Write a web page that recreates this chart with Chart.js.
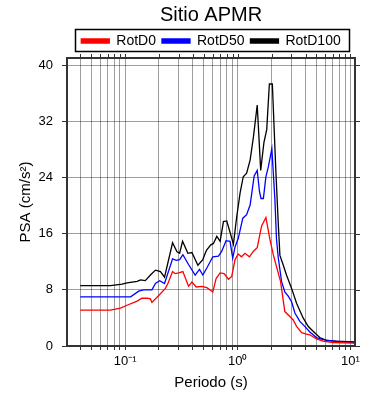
<!DOCTYPE html>
<html><head><meta charset="utf-8">
<script src="https://cdn.jsdelivr.net/npm/chart.js@4/dist/chart.umd.min.js"></script>
<style>html,body{margin:0;padding:0;background:#fff}</style>
</head><body>
<canvas id="c" width="390" height="400"></canvas>
<script>
const chartTitle = 'Sitio APMR';
const xAxisTitle = 'Periodo (s)';
const yAxisTitle = 'PSA (cm/s²)';
const seriesNames = ['RotD0', 'RotD50', 'RotD100'];
const seriesColors = ['#ff0000', '#0000ff', '#000000'];

const periodsD0 = [0.04,0.0742,0.0909,0.104,0.128,0.141,0.157,0.168,0.173,0.199,0.228,0.240,0.264,0.279,0.299,0.326,0.366,0.392,0.428,0.480,0.532,0.601,0.643,0.698,0.757,0.827,0.885,0.947,1.01,1.08,1.16,1.27,1.38,1.49,1.63,1.78,1.93,2.07,2.21,2.40,2.62,2.90,3.11,3.33,3.69,4.08,4.37,5.00,5.73,7.02,11];
const psaD0 = [5.1,5.1,5.4,5.8,6.4,6.8,6.8,6.7,6.2,7.2,8.2,8.9,10.6,10.3,10.4,10.6,8.5,9.1,8.4,8.5,8.3,7.7,9.6,10.4,10.3,9.5,9.9,12.3,13.1,12.7,13.2,12.7,13.5,14.0,17.1,18.3,15.2,13.0,11.3,9.2,4.9,4.2,3.7,2.8,1.9,1.7,1.6,1.0,0.7,0.5,0.4];

const periodsD50 = [0.04,0.112,0.132,0.146,0.173,0.186,0.203,0.224,0.264,0.285,0.305,0.326,0.366,0.419,0.458,0.490,0.532,0.601,0.674,0.722,0.788,0.855,0.903,0.947,1.01,1.11,1.20,1.29,1.40,1.49,1.56,1.61,1.69,1.78,1.87,2.01,2.14,2.21,2.29,2.45,2.62,2.81,3.01,3.22,3.56,3.94,4.37,5.00,5.73,7.02,11];
const psaD50 = [7.0,7.0,7.8,8.0,8.0,8.9,9.3,8.9,12.4,12.2,12.3,13.0,11.6,10.1,10.9,10.1,11.1,12.7,12.8,13.5,15.0,14.9,12.5,14.1,15.3,18.2,18.7,20.1,24.2,25.0,22.0,21.0,21.0,24.1,25.5,28.1,20.8,15.2,12.6,9.2,7.7,7.1,6.3,4.7,3.5,2.8,2.0,1.2,0.9,0.7,0.5];

const periodsD100 = [0.04,0.0742,0.0941,0.104,0.128,0.137,0.151,0.168,0.186,0.206,0.224,0.264,0.289,0.305,0.324,0.361,0.392,0.443,0.490,0.521,0.532,0.577,0.609,0.652,0.698,0.747,0.799,0.855,0.916,0.980,1.05,1.12,1.20,1.29,1.38,1.49,1.60,1.71,1.81,1.91,2.03,2.18,2.29,2.37,2.54,2.71,3.01,3.33,3.81,4.22,4.67,5.35,6.13,7.52,11];
const psaD100 = [8.6,8.6,8.8,9.0,9.2,9.4,9.3,10.1,10.8,10.6,9.8,14.7,13.4,13.2,14.9,13.2,13.3,11.5,12.3,13.4,13.7,14.4,14.6,15.6,14.9,17.7,17.8,16.2,14.5,18.4,21.8,24.1,24.6,26.5,29.8,34.3,25.0,29.0,30.8,37.3,37.3,25.0,17.5,12.9,11.5,10.1,8.2,6.1,4.0,2.8,2.1,1.2,0.8,0.7,0.6];

const xGridTicks = [0.04,0.05,0.06,0.07,0.08,0.09,0.1,0.2,0.3,0.4,0.5,0.6,0.7,0.8,0.9,1,2,3,4,5,6,7,8,9,10];
const xTickLabels = {'0.1': '10⁻¹', '1': '10⁰', '10': '10¹'};
const xMin = 0.0305, xMax = 11;
const yMin = 0, yMax = 41, yStep = 8;

const FONT = "'Liberation Sans', Arial, Helvetica, sans-serif";

function toPoints(xs, ys) { return xs.map((x, i) => ({x: x, y: ys[i]})); }

const seriesPeriods = [periodsD0, periodsD50, periodsD100];
const seriesValues = [psaD0, psaD50, psaD100];

const datasets = seriesNames.map((name, i) => ({
  label: name,
  data: toPoints(seriesPeriods[i], seriesValues[i]),
  borderColor: seriesColors[i],
  backgroundColor: seriesColors[i],
  borderWidth: 1.3,
  pointRadius: 0,
  tension: 0,
  order: i
}));

const framePlugin = {
  id: 'frame',
  afterDraw(chart) {
    const {ctx, chartArea: a, scales} = chart;
    ctx.save();
    ctx.strokeStyle = '#333';
    ctx.lineWidth = 1;
    ctx.beginPath();
    scales.x.ticks.forEach(t => {
      const px = Math.round(scales.x.getPixelForValue(t.value)) + 0.5;
      ctx.moveTo(px, a.top); ctx.lineTo(px, a.top - 4);
    });
    scales.y.ticks.forEach(t => {
      const py = Math.round(scales.y.getPixelForValue(t.value)) + 0.5;
      ctx.moveTo(a.right, py); ctx.lineTo(a.right + 5, py);
    });
    ctx.stroke();
    ctx.lineWidth = 2;
    ctx.strokeRect(a.left, a.top, a.right - a.left, a.bottom - a.top);
    // legend frame
    const hb = chart.legend.legendHitBoxes;
    if (hb && hb.length) {
      const l = Math.min(...hb.map(h => h.left)) - 6;
      const r = Math.max(...hb.map(h => h.left + h.width)) + 9;
      const cy = hb[0].top + hb[0].height / 2;
      ctx.lineWidth = 1.5;
      ctx.strokeStyle = '#000';
      ctx.strokeRect(Math.round(l) + 0.5, Math.round(cy - 12) + 0.5, Math.round(r - l), 22);
    }
    ctx.restore();
  }
};

new Chart(document.getElementById('c'), {
  type: 'line',
  data: {datasets},
  plugins: [framePlugin],
  options: {
    responsive: false,
    animation: false,
    devicePixelRatio: 1,
    layout: {padding: {left: 0, right: 35, top: 0, bottom: 0}},
    plugins: {
      title: {
        display: true, text: chartTitle, color: '#000', fullSize: false,
        font: {family: FONT, size: 20, weight: 'normal', lineHeight: 1.2},
        padding: {top: 3, bottom: 1}
      },
      legend: {
        display: true, fullSize: false,
        labels: {
          color: '#000', boxWidth: 28, boxHeight: 4, padding: 6,
          font: {family: FONT, size: 14}
        }
      },
      tooltip: {enabled: false}
    },
    scales: {
      x: {
        type: 'logarithmic', position: 'bottom', min: xMin, max: xMax,
        afterBuildTicks: (scale) => { scale.ticks = xGridTicks.map(v => ({value: v})); },
        afterFit: (scale) => { scale.height = 54; },
        ticks: {
          autoSkip: false, maxRotation: 0, minRotation: 0, padding: 4, color: '#000',
          font: {family: FONT, size: 13},
          callback: (v) => xTickLabels[String(v)] || ''
        },
        grid: {color: 'rgba(0,0,0,0.38)', lineWidth: 1, tickLength: 4, tickColor: '#333'},
        border: {display: true, color: '#333', width: 2},
        title: {display: true, text: xAxisTitle, color: '#000', font: {family: FONT, size: 15}, padding: {top: 0, bottom: 8}}
      },
      y: {
        type: 'linear', position: 'left', min: yMin, max: yMax,
        afterFit: (scale) => { scale.width = 67; },
        ticks: {stepSize: yStep, includeBounds: false, padding: 9, color: '#000', font: {family: FONT, size: 13}},
        grid: {color: 'rgba(0,0,0,0.38)', lineWidth: 1, tickLength: 5, tickColor: '#333'},
        border: {display: true, color: '#333', width: 2},
        title: {display: true, text: yAxisTitle, color: '#000', font: {family: FONT, size: 15}, padding: {top: 17, bottom: 0}}
      }
    }
  }
});
</script>
</body></html>
